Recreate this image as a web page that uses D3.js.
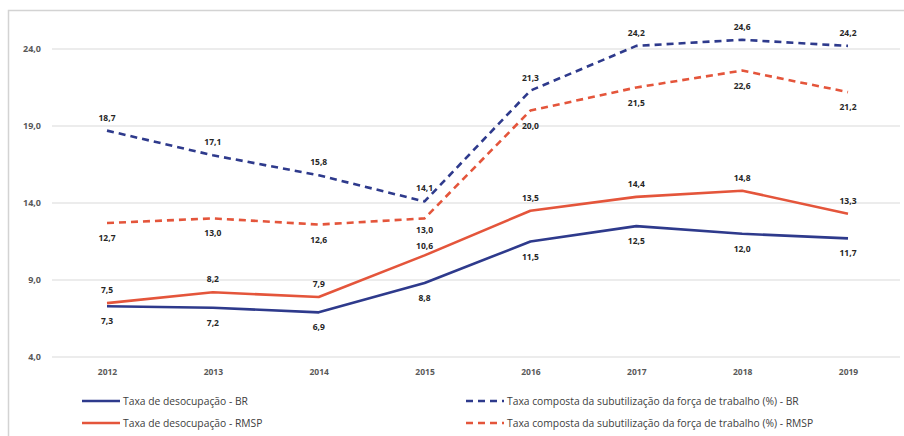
<!DOCTYPE html>
<html><head><meta charset="utf-8">
<script src="https://cdn.jsdelivr.net/npm/d3@7"></script>
<style>body{margin:0;background:#fff}svg{display:block;font-family:"Open Sans","Liberation Sans",Arial,sans-serif}</style>
</head><body><svg id="c" width="904" height="436"></svg>
<script>
const years = ["2012","2013","2014","2015","2016","2017","2018","2019"];
const desocBR = [7.3,7.2,6.9,8.8,11.5,12.5,12.0,11.7];
const desocRMSP = [7.5,8.2,7.9,10.6,13.5,14.4,14.8,13.3];
const subBR = [18.7,17.1,15.8,14.1,21.3,24.2,24.6,24.2];
const subRMSP = [12.7,13.0,12.6,13.0,20.0,21.5,22.6,21.2];
const yTicks = [4,9,14,19,24];
const seriesNames = ["Taxa de desocupação - BR","Taxa de desocupação - RMSP","Taxa composta da subutilização da força de trabalho (%) - BR","Taxa composta da subutilização da força de trabalho (%) - RMSP"];

const blue = "#2e3a8c", red = "#e4553b";
const svg = d3.select("#c");
svg.append("rect").attr("x",8.5).attr("y",10.5).attr("width",904).attr("height",436).attr("fill","none").attr("stroke","#d3d3d3").attr("stroke-width",1.5);

const x = d3.scalePoint().domain(years).range([107,848]);
const y = d3.scaleLinear().domain([4,24]).range([357,49]);
const fmt = v => d3.format(".1f")(v).replace(".",",");

svg.append("g").selectAll("line").data(yTicks).join("line")
  .attr("x1",52).attr("x2",900).attr("y1",d=>y(d)).attr("y2",d=>y(d))
  .attr("stroke","#d9d9d9").attr("stroke-width",1);

const yAxis = svg.append("g").attr("transform","translate(41,0)")
  .call(d3.axisLeft(y).tickValues(yTicks).tickSize(0).tickPadding(0).tickFormat(fmt));
yAxis.select(".domain").remove();
yAxis.selectAll("text").attr("font-size",9).attr("fill","#595959").attr("font-weight","bold").attr("font-family","Open Sans");

const xAxis = svg.append("g").attr("transform","translate(0,369)")
  .call(d3.axisBottom(x).tickSize(0).tickPadding(0));
xAxis.select(".domain").remove();
xAxis.selectAll("text").attr("font-size",8.5).attr("fill","#595959").attr("font-weight","bold").attr("font-family","Open Sans");

const series = [
  {vals:desocBR,color:blue,dash:null,pos:"below"},
  {vals:desocRMSP,color:red,dash:null,pos:"above"},
  {vals:subBR,color:blue,dash:"7,5",pos:"above"},
  {vals:subRMSP,color:red,dash:"7,5",pos:"below"}
];
const line = d3.line().x((d,i)=>x(years[i])).y(d=>y(d));
series.forEach(s=>{
  svg.append("path").attr("d",line(s.vals)).attr("fill","none")
    .attr("stroke",s.color).attr("stroke-width",2.6).attr("stroke-dasharray",s.dash)
    .attr("stroke-linejoin","round");
});

const labels = [];
series.forEach((s,si)=>{
  s.vals.forEach((v,i)=>{
    labels.push({i, v, x:x(years[i]), y:y(v)+(s.pos==="above"?-10:18)});
  });
});
years.forEach((yr,i)=>{
  const col = labels.filter(l=>l.i===i).sort((a,b)=>a.y-b.y);
  for(let k=1;k<col.length;k++){
    const a=col[k-1], b=col[k];
    if(b.y-a.y<12){
      const mid=(a.y+b.y)/2;
      a.y=mid-8; b.y=mid+8;
    }
  }
});
svg.append("g").selectAll("text").data(labels).join("text")
  .attr("x",d=>d.x).attr("y",d=>d.y)
  .attr("text-anchor","middle").attr("font-size",8.5).attr("font-weight","bold").attr("fill","#262626")
  .text(d=>fmt(d.v));

const legend = [
  {x:82,y:401,s:0},{x:82,y:423,s:1},{x:466,y:401,s:2},{x:466,y:423,s:3}
];
legend.forEach(l=>{
  const s = series[l.s];
  svg.append("line").attr("x1",l.x).attr("x2",l.x+38).attr("y1",l.y).attr("y2",l.y)
    .attr("stroke",s.color).attr("stroke-width",2.6).attr("stroke-dasharray",s.dash);
  svg.append("text").attr("x",l.x+41).attr("y",l.y+3.5).attr("font-size",10.3).attr("fill","#404040")
    .text(seriesNames[l.s]);
});
</script></body></html>
